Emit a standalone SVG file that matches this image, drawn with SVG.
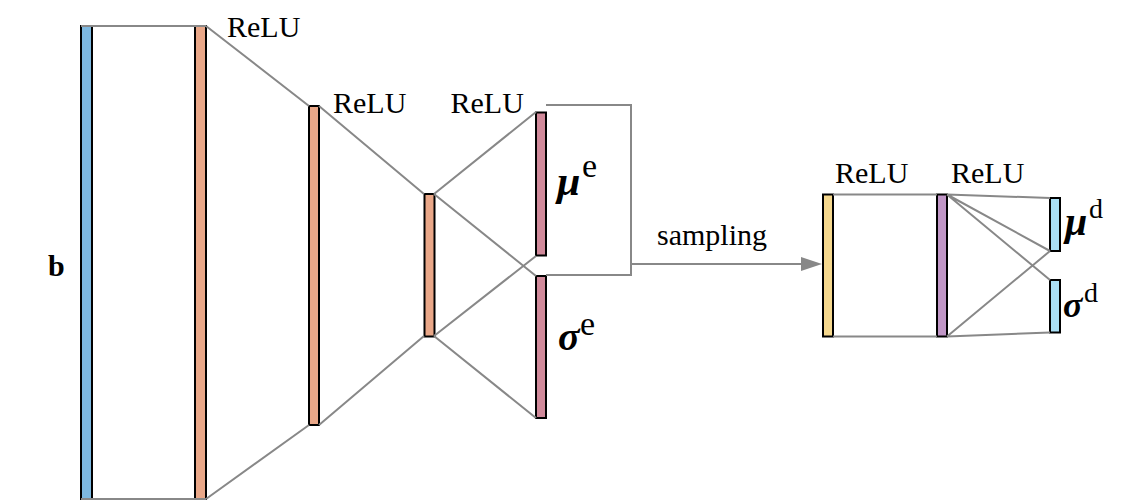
<svg xmlns="http://www.w3.org/2000/svg" width="1127" height="500" viewBox="0 0 1127 500">
<rect width="1127" height="500" fill="#fff"/>
<g id="nodes" stroke="#000" stroke-width="2">
<g id="input"><rect x="81" y="26" width="11" height="474" fill="#7DB8E0"/></g>
<g id="enc1"><rect x="195" y="26" width="11" height="474" fill="#E9A788"/></g>
<g id="enc2"><rect x="309" y="106" width="10" height="319" fill="#E9A788"/></g>
<g id="enc3"><rect x="424.5" y="194" width="10" height="142.5" fill="#E9A788"/></g>
<g id="mu_e"><rect x="536" y="112.5" width="10" height="143" fill="#D0899A"/></g>
<g id="sigma_e"><rect x="536" y="276" width="10" height="142" fill="#D0899A"/></g>
<g id="dec1"><rect x="823" y="194.5" width="10" height="142" fill="#F5D88E"/></g>
<g id="dec2"><rect x="937" y="194.5" width="10" height="142" fill="#C096C6"/></g>
<g id="mu_d"><rect x="1050" y="198" width="10" height="53" fill="#AADFF5"/></g>
<g id="sigma_d"><rect x="1050" y="280" width="10" height="52.5" fill="#AADFF5"/></g>
</g>
<g id="connectors" stroke="#888" stroke-width="2" fill="none">
<path d="M81 26H206M81 499H206M206 26L309 106M206 499L309 425M319 106L424 194M319 425L424 336"/>
<path d="M434 194L536 112M434 194L536 276M434 336L536 256M434 336L536 418"/>
<path d="M546 105H631V275H546"/>
<path d="M631 264H804"/>
<polygon points="801,257 822,264 801,271" fill="#888" stroke="none"/>
<path d="M833 194.5H937M833 336.5H937M947 194.5L1050 198M947 194.5L1050 251M947 194.5L1050 280M947 336.5L1050 251M947 336.5L1050 332.5"/>
</g>
<g id="labels">
<text font-family="Liberation Serif" x="48" y="276" font-size="30" font-weight="bold">b</text>
<text font-family="Liberation Serif" x="227" y="36.5" font-size="30">ReLU</text>
<text font-family="Liberation Serif" x="333" y="112.5" font-size="30">ReLU</text>
<text font-family="Liberation Serif" x="450.5" y="112.5" font-size="30">ReLU</text>
<text font-family="Liberation Serif" x="557" y="195" font-size="42" font-weight="bold" font-style="italic">μ</text>
<text font-family="Liberation Serif" x="582" y="176.5" font-size="34">e</text>
<text font-family="Liberation Serif" x="558" y="350" font-size="40" font-weight="bold" font-style="italic">σ</text>
<text font-family="Liberation Serif" x="580" y="335" font-size="34">e</text>
<text font-family="Liberation Serif" x="835" y="183" font-size="30">ReLU</text>
<text font-family="Liberation Serif" x="951" y="183" font-size="30">ReLU</text>
<text font-family="Liberation Serif" x="1065" y="235" font-size="40" font-weight="bold" font-style="italic">μ</text>
<text font-family="Liberation Serif" x="1089" y="218" font-size="28">d</text>
<text font-family="Liberation Serif" x="1063" y="317" font-size="36" font-weight="bold" font-style="italic">σ</text>
<text font-family="Liberation Serif" x="1084" y="301.5" font-size="28">d</text>
<text font-family="Liberation Serif" x="657" y="245" font-size="30">sampling</text>
</g>
</svg>
